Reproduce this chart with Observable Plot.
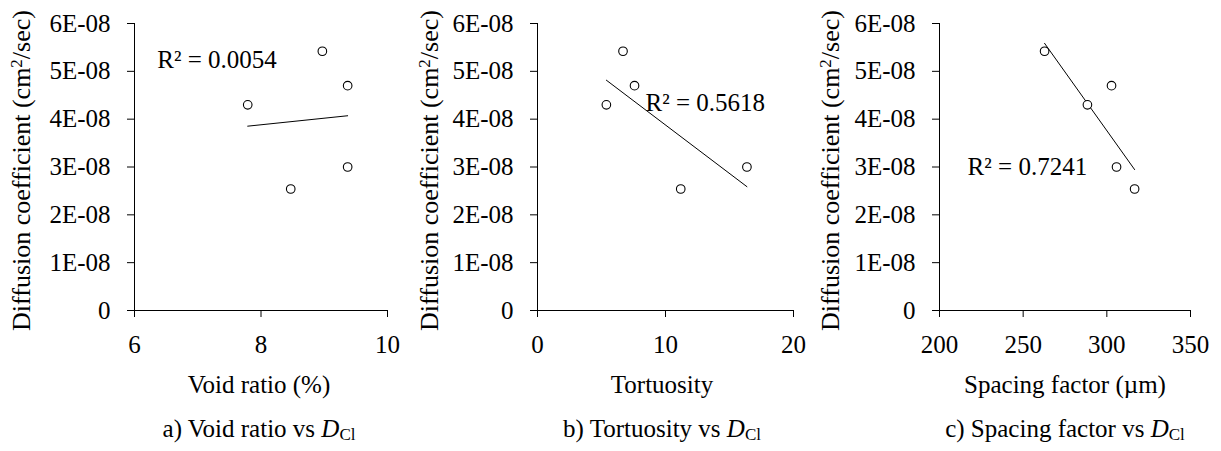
<!DOCTYPE html>
<html>
<head>
<meta charset="utf-8">
<script src="https://cdn.jsdelivr.net/npm/d3@7"></script>
<script src="https://cdn.jsdelivr.net/npm/@observablehq/plot@0.6"></script>
<style>
  body { margin: 0; background: #fff; }
  #chart { position: relative; width: 1221px; height: 451px; overflow: hidden; }
  #chart svg.panel { position: absolute; top: 0; }
  #chart svg.labels { position: absolute; top: 0; left: 0; pointer-events: none; }
</style>
</head>
<body>
<div id="chart"></div>
<script>
// Chloride diffusion coefficient D_Cl (cm²/sec) of the five mixes
const diffusion = [4.30e-8, 5.42e-8, 4.70e-8, 3.00e-8, 2.54e-8];
// Air-void parameters of the same five mixes
const voidRatio = [7.79, 8.97, 9.37, 9.37, 8.47];
const tortuosity = [5.38, 6.68, 7.58, 16.36, 11.19];
const spacingFactor = [288.4, 262.8, 302.8, 305.8, 316.6];

const yTicks = [0, 1e-8, 2e-8, 3e-8, 4e-8, 5e-8, 6e-8];
const voidTicks = [6, 8, 10];
const tortuosityTicks = [0, 10, 20];
const spacingTicks = [200, 250, 300, 350];

const r2Labels = ["R² = 0.0054", "R² = 0.5618", "R² = 0.7241"];
const xLabels = ["Void ratio (%)", "Tortuosity", "Spacing factor (µm)"];
const captions = ["a) Void ratio vs ", "b) Tortuosity vs ", "c) Spacing factor vs "];

const FONT = "'Liberation Serif', 'Times New Roman', Times, serif";

// Layout of the three panels (pixels) and where each R² note sits (data units)
const panels = [
  {x: voidRatio, domain: [6, 10], ticks: voidTicks, left: 0, marginLeft: 134, marginRight: 20,
   note: {x: 6.36, y: 5.07e-8}, center: 259, yLabelX: 29.5},
  {x: tortuosity, domain: [0, 20], ticks: tortuosityTicks, left: 407, marginLeft: 130, marginRight: 21,
   note: {x: 8.44, y: 4.18e-8}, center: 662, yLabelX: 437.5},
  {x: spacingFactor, domain: [200, 350], ticks: spacingTicks, left: 814, marginLeft: 125, marginRight: 31,
   note: {x: 216.8, y: 2.84e-8}, center: 1065, yLabelX: 838.5}
];

const formatE = d => d === 0 ? "0" : `${Math.round(d * 1e8)}E-08`;

const chart = document.getElementById("chart");

panels.forEach((p, i) => {
  const points = diffusion.map((d, k) => ({x: p.x[k], y: d}));
  const svg = Plot.plot({
    width: 407,
    height: 360,
    marginLeft: p.marginLeft,
    marginRight: p.marginRight,
    marginTop: 23,
    marginBottom: 50,
    style: {fontFamily: FONT, color: "#000", background: "transparent", overflow: "visible"},
    x: {domain: p.domain},
    y: {domain: [0, 6e-8]},
    marks: [
      Plot.axisX({ticks: p.ticks, tickSize: 7, tickPadding: 18, tickFormat: d => String(d),
        label: null, fontSize: 25, fontFamily: FONT}),
      Plot.axisY({ticks: yTicks, tickSize: 7, tickPadding: 17, tickFormat: formatE,
        label: null, fontSize: 25, fontFamily: FONT}),
      Plot.ruleY([0], {stroke: "#000", strokeWidth: 1}),
      Plot.ruleX([p.domain[0]], {stroke: "#000", strokeWidth: 1}),
      Plot.linearRegressionY(points, {x: "x", y: "y", ci: 0, stroke: "#000", strokeWidth: 1}),
      Plot.dot(points, {x: "x", y: "y", r: 4.3, stroke: "#000", fill: "#fff", strokeWidth: 1.1}),
      Plot.text([r2Labels[i]], {x: () => p.note.x, y: () => p.note.y, text: d => d,
        textAnchor: "start", lineAnchor: "bottom", fontSize: 25, fill: "#000"})
    ]
  });
  svg.classList.add("panel");
  svg.style.left = p.left + "px";
  chart.appendChild(svg);
});

// Axis titles and panel captions
const overlay = d3.select(chart).append("svg")
  .attr("class", "labels")
  .attr("width", 1221)
  .attr("height", 451)
  .style("font-family", FONT)
  .attr("fill", "#000");

panels.forEach((p, i) => {
  const yl = overlay.append("text")
    .attr("transform", `translate(${p.yLabelX},170.5) rotate(-90)`)
    .attr("text-anchor", "middle")
    .attr("font-size", 26);
  yl.append("tspan").text("Diffusion coefficient (cm");
  yl.append("tspan").attr("font-size", 17).attr("baseline-shift", "8px").text("2");
  yl.append("tspan").text("/sec)");

  overlay.append("text")
    .attr("x", p.center).attr("y", 393)
    .attr("text-anchor", "middle")
    .attr("font-size", 25)
    .text(xLabels[i]);

  const cap = overlay.append("text")
    .attr("x", p.center).attr("y", 437)
    .attr("text-anchor", "middle")
    .attr("font-size", 25);
  cap.append("tspan").text(captions[i]);
  cap.append("tspan").attr("font-style", "italic").text("D");
  cap.append("tspan").attr("font-size", 17).attr("baseline-shift", "-3px").text("Cl");
});
</script>
</body>
</html>
